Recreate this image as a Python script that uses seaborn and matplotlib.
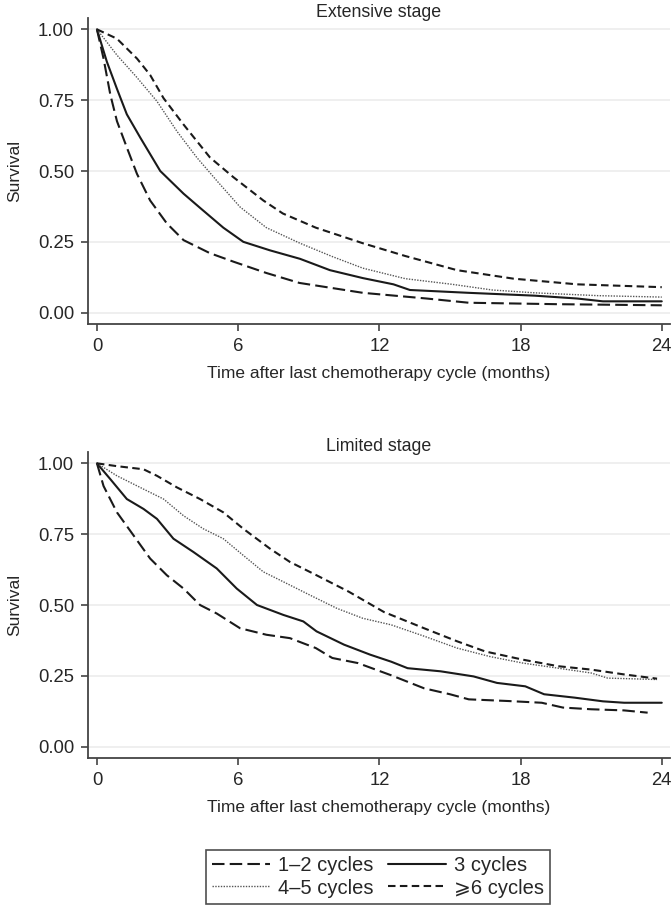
import numpy as np
import pandas as pd
import matplotlib
matplotlib.use("Agg")
import matplotlib.pyplot as plt
import seaborn as sns

# survival curves (months, survival)
groups = ["1\u20132 cycles", "3 cycles", "4\u20135 cycles", "\u2a7e6 cycles"]

# Extensive stage
ext_t12 = [0, 0.28, 0.57, 0.85, 1.27, 1.7, 2.26, 2.97, 3.68, 4.8, 5.8, 7.2, 8.6, 11.3, 14, 15.8, 19.5, 24]
ext_s12 = [1.0, 0.897, 0.769, 0.676, 0.583, 0.49, 0.396, 0.315, 0.256, 0.21, 0.18, 0.14, 0.105, 0.07, 0.05, 0.035, 0.03, 0.026]
ext_t3 = [0, 0.42, 0.85, 1.27, 1.84, 2.69, 3.68, 4.38, 5.37, 6.22, 7.35, 8.63, 9.9, 11.3, 12.6, 13.3, 15.8, 18.6, 20.4, 21.5, 24]
ext_s3 = [1.0, 0.886, 0.79, 0.70, 0.618, 0.50, 0.42, 0.37, 0.30, 0.25, 0.22, 0.19, 0.15, 0.122, 0.10, 0.08, 0.07, 0.06, 0.05, 0.04, 0.04]
ext_t45 = [0, 0.85, 1.7, 2.55, 3.4, 4.24, 5.09, 6.08, 7.2, 8.63, 10.0, 11.3, 13.1, 15.1, 16.8, 18.6, 21.3, 24]
ext_s45 = [1.0, 0.909, 0.83, 0.746, 0.64, 0.548, 0.466, 0.373, 0.30, 0.245, 0.198, 0.157, 0.12, 0.10, 0.08, 0.07, 0.06, 0.055]
ext_t6 = [0, 0.85, 1.7, 2.26, 2.83, 3.68, 4.8, 5.8, 7.07, 7.9, 9.3, 11.3, 13.1, 15.3, 17.7, 20.4, 24]
ext_s6 = [1.0, 0.967, 0.897, 0.839, 0.757, 0.664, 0.548, 0.478, 0.396, 0.35, 0.30, 0.245, 0.20, 0.15, 0.12, 0.10, 0.09]

# Limited stage
lim_t12 = [0, 0.28, 0.85, 1.56, 2.26, 2.97, 3.68, 4.38, 5.09, 6.08, 7.2, 8.2, 9.3, 10.0, 11.09, 12.5, 13.9, 15.0, 15.8,
           17.5, 18.9, 19.8, 21.0, 22.4, 23.4]
lim_s12 = [1.0, 0.92, 0.827, 0.745, 0.664, 0.605, 0.558, 0.50, 0.47, 0.418, 0.395, 0.383, 0.348, 0.313, 0.295, 0.252,
           0.206, 0.185, 0.167, 0.161, 0.155, 0.138, 0.132, 0.128, 0.12]
lim_t3 = [0, 0.57, 1.27, 1.98, 2.55, 3.25, 4.1, 5.09, 5.94, 6.8, 7.92, 8.77, 9.33, 10.5, 11.6, 12.5, 13.2, 14.6, 16.0,
          17.0, 18.2, 19.0, 20.3, 21.5, 22.4, 24]
lim_s3 = [1.0, 0.944, 0.874, 0.839, 0.804, 0.734, 0.687, 0.629, 0.558, 0.50, 0.465, 0.442, 0.407, 0.36, 0.325, 0.30,
          0.277, 0.266, 0.248, 0.225, 0.213, 0.185, 0.173, 0.16, 0.155, 0.155]
lim_t45 = [0, 0.85, 1.98, 2.83, 3.68, 4.52, 5.37, 6.22, 7.07, 7.92, 9.05, 10.2, 11.3, 12.5, 13.9, 15.3, 16.7, 18.1,
           19.6, 21.0, 21.7, 23.8]
lim_s45 = [1.0, 0.956, 0.909, 0.874, 0.815, 0.769, 0.734, 0.675, 0.617, 0.582, 0.535, 0.488, 0.453, 0.43, 0.39, 0.348,
           0.318, 0.295, 0.277, 0.26, 0.242, 0.237]
lim_t6 = [0, 0.85, 1.98, 2.55, 3.4, 4.38, 5.37, 6.22, 7.35, 8.2, 9.33, 10.7, 12.2, 13.9, 15.3, 16.5, 18.1, 19.6, 21.0,
          22.4, 23.8]
lim_s6 = [1.0, 0.99, 0.979, 0.956, 0.915, 0.874, 0.827, 0.769, 0.699, 0.652, 0.605, 0.547, 0.475, 0.418, 0.372, 0.336,
          0.307, 0.284, 0.272, 0.255, 0.24]


def make_df(pairs):
    rows = []
    for g, (t, s) in zip(groups, pairs):
        for a, b in zip(t, s):
            rows.append({"time": a, "surv": b, "group": g})
    return pd.DataFrame(rows)


ext = make_df([(ext_t12, ext_s12), (ext_t3, ext_s3), (ext_t45, ext_s45), (ext_t6, ext_s6)])
lim = make_df([(lim_t12, lim_s12), (lim_t3, lim_s3), (lim_t45, lim_s45), (lim_t6, lim_s6)])

sns.set_style("white")
plt.rcParams["font.family"] = ["Liberation Sans", "DejaVu Sans"]

dashes = {groups[0]: (6, 2.5), groups[1]: "", groups[2]: (1, 1), groups[3]: (3.6, 2.1)}
colors = {groups[0]: "#1a1a1a", groups[1]: "#1a1a1a", groups[2]: "#555555", groups[3]: "#1a1a1a"}
widths = {groups[0]: 1.5, groups[1]: 1.5, groups[2]: 1.0, groups[3]: 1.5}

fig = plt.figure(figsize=(6.72, 9.09), dpi=100)
ax1 = fig.add_axes([88 / 672, 1 - 324 / 909, 582 / 672, 306 / 909])
ax2 = fig.add_axes([88 / 672, 1 - 758 / 909, 582 / 672, 306 / 909])

for ax, df, title in [(ax1, ext, "Extensive stage"), (ax2, lim, "Limited stage")]:
    for g in groups:
        sub = df[df["group"] == g]
        sns.lineplot(data=sub, x="time", y="surv", ax=ax, color=colors[g],
                     lw=widths[g], estimator=None, sort=False, label=g, legend=False)
        line = ax.lines[-1]
        if dashes[g]:
            line.set_dashes(dashes[g])
    ax.set_xlim(-0.38, 24.35)
    ax.set_ylim(-0.04, 1.04)
    ax.set_xticks([0, 6, 12, 18, 24])
    ax.set_yticks([0, 0.25, 0.5, 0.75, 1.0])
    ax.set_yticklabels(["0.00", "0.25", "0.50", "0.75", "1.00"])
    ax.yaxis.grid(True, color="#ececec", lw=1.2)
    ax.set_axisbelow(True)
    for s in ["top", "right"]:
        ax.spines[s].set_visible(False)
    for s in ["left", "bottom"]:
        ax.spines[s].set_color("#444444")
        ax.spines[s].set_linewidth(1.3)
    ax.tick_params(axis="both", direction="out", length=5, width=1.2, color="#444444",
                   labelsize=13.3, left=True, bottom=True, pad=5)
    ax.set_title(title, fontsize=12.8, pad=1)
    ax.set_ylabel("Survival", fontsize=12.5, labelpad=11)
    ax.set_xlabel("Time after last chemotherapy cycle (months)", fontsize=12.5, labelpad=8)

# legend filled column by column, so order the handles to read row-wise
lines = ax2.lines[:4]
handles = [lines[0], lines[2], lines[1], lines[3]]
labels = [groups[0], groups[2], groups[1], groups[3]]
leg = fig.legend(handles, labels, loc="center", bbox_to_anchor=(378 / 672, 1 - 877 / 909),
                 ncol=2, frameon=True, fancybox=False, fontsize=14.5, handlelength=2.9,
                 columnspacing=0.7, handletextpad=0.4, labelspacing=0.15, borderpad=0.3,
                 borderaxespad=0)
leg.get_frame().set_edgecolor("#222222")
leg.get_frame().set_linewidth(1.2)

fig.savefig("out.png", dpi=100)
